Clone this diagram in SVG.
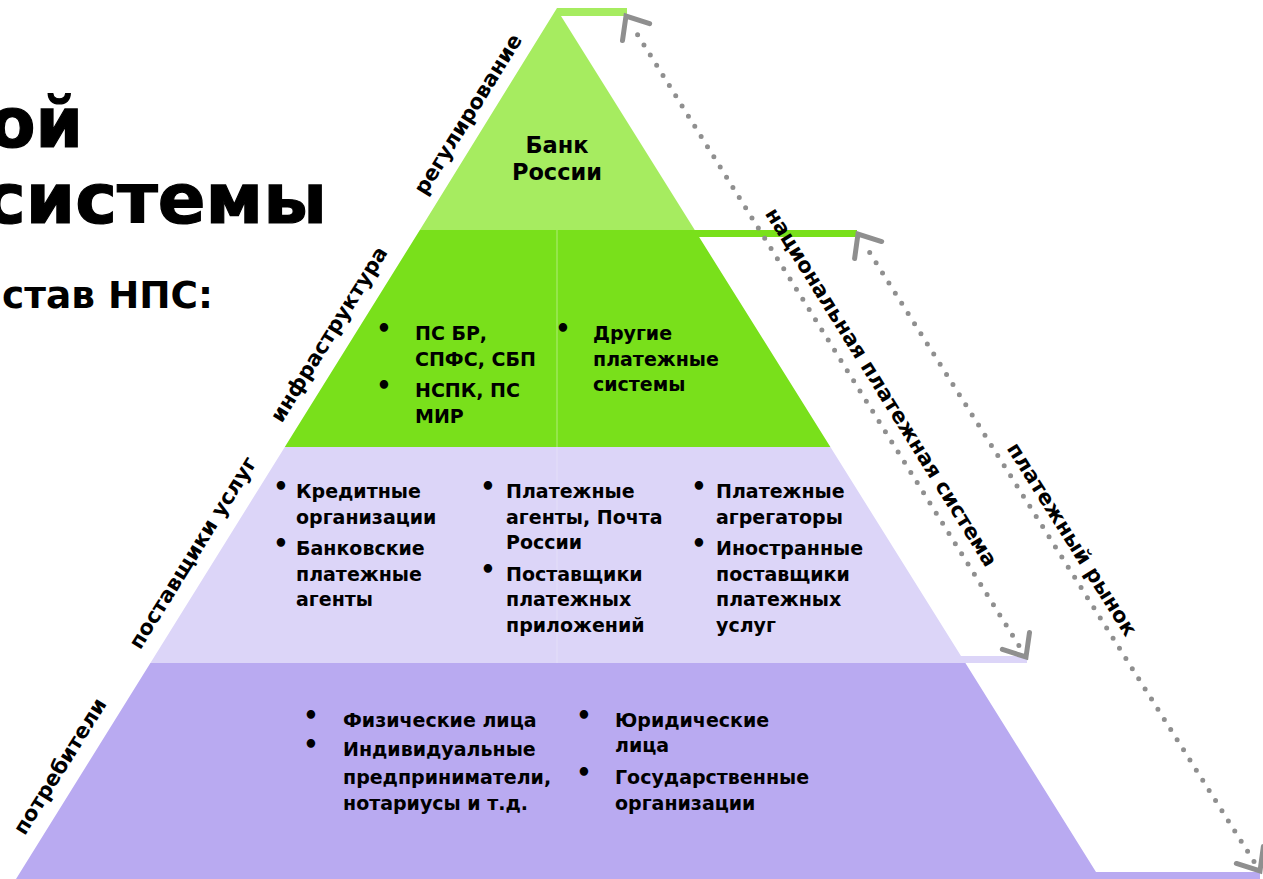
<svg xmlns="http://www.w3.org/2000/svg" xmlns:xlink="http://www.w3.org/1999/xlink" width="1263" height="879" viewBox="0 0 1263 879">
<defs>
<style>
.t{font-family:"DejaVu Sans","Noto Sans",sans-serif;font-weight:bold;fill:#000;}
.b{font-size:19px;}
.bu{font-size:24px;text-anchor:middle;}
.lab{font-size:21px;text-anchor:middle;}
.ttl{font-size:69px;stroke:#000;stroke-width:1.2;}
.dot{fill:none;stroke:#8F8F8F;stroke-width:5;stroke-linecap:round;stroke-dasharray:0 12;}
.chev{fill:none;stroke:#8F8F8F;stroke-width:5;stroke-linecap:round;stroke-linejoin:miter;}
.div{stroke:#FFFFFF;stroke-width:1.2;}
</style>
<path id="chev" d="M -19 -16 L 0 0 L -19 16"/>
</defs>
<rect x="0" y="0" width="1263" height="879" fill="#FFFFFF"/>

<g id="title">
<text class="t ttl" x="-11" y="147" textLength="94" lengthAdjust="spacingAndGlyphs">ой</text>
<text class="t ttl" x="-16" y="223" textLength="343" lengthAdjust="spacingAndGlyphs">системы</text>
<text class="t" x="2" y="308" font-size="38" textLength="211" lengthAdjust="spacingAndGlyphs">став НПС:</text>
</g>

<g id="layer-regulation">
<polygon points="557,8 627,8 627,16 561,16 694.75,230 419.85,230" fill="#A6EC60"/>
<text class="t" x="557" y="153" font-size="22.5" text-anchor="middle">Банк</text>
<text class="t" x="557" y="180" font-size="22.5" text-anchor="middle">России</text>
<text class="t lab" transform="translate(474,118) rotate(-58.1)">регулирование</text>
</g>

<g id="layer-infrastructure">
<polygon points="419.85,230 857,230 857,237 699.1,237 830.4,447 284.8,447" fill="#79E01B"/>
<line class="div" x1="557" y1="230" x2="557" y2="447" stroke-opacity="0.35"/>
<text class="t bu" x="384" y="337">•</text>
<text class="t b" x="415" y="340">ПС БР,</text>
<text class="t b" x="415" y="365.5">СПФС, СБП</text>
<text class="t bu" x="384" y="394">•</text>
<text class="t b" x="415" y="397">НСПК, ПС</text>
<text class="t b" x="415" y="422.5">МИР</text>
<text class="t bu" x="563" y="337">•</text>
<text class="t b" x="593" y="340">Другие</text>
<text class="t b" x="593" y="365.5">платежные</text>
<text class="t b" x="593" y="391">системы</text>
<text class="t lab" transform="translate(335,338) rotate(-58.1)">инфраструктура</text>
</g>

<g id="layer-providers">
<polygon points="284.8,447 830.4,447 961,656 1027,656 1027,663 150.4,663" fill="#DCD5F8"/>
<line class="div" x1="557" y1="447" x2="557" y2="663" stroke-opacity="0.2"/>
<text class="t bu" x="281" y="495">•</text>
<text class="t b" x="296" y="498">Кредитные</text>
<text class="t b" x="296" y="523.5">организации</text>
<text class="t bu" x="281" y="552">•</text>
<text class="t b" x="296" y="555">Банковские</text>
<text class="t b" x="296" y="580.5">платежные</text>
<text class="t b" x="296" y="606">агенты</text>
<text class="t bu" x="488" y="495">•</text>
<text class="t b" x="506" y="498">Платежные</text>
<text class="t b" x="506" y="523.5">агенты, Почта</text>
<text class="t b" x="506" y="549">России</text>
<text class="t bu" x="488" y="577.5">•</text>
<text class="t b" x="506" y="580.5">Поставщики</text>
<text class="t b" x="506" y="606">платежных</text>
<text class="t b" x="506" y="631.5">приложений</text>
<text class="t bu" x="699" y="495">•</text>
<text class="t b" x="716" y="498">Платежные</text>
<text class="t b" x="716" y="523.5">агрегаторы</text>
<text class="t bu" x="699" y="552">•</text>
<text class="t b" x="716" y="555">Иностранные</text>
<text class="t b" x="716" y="580.5">поставщики</text>
<text class="t b" x="716" y="606">платежных</text>
<text class="t b" x="716" y="631.5">услуг</text>
<text class="t lab" transform="translate(198.7,556.4) rotate(-58.1)">поставщики услуг</text>
</g>

<g id="layer-consumers">
<polygon points="150.4,663 965.4,663 1096,872 1260,872 1260,879 16,879" fill="#B9AAF1"/>
<text class="t bu" x="311" y="724">•</text>
<text class="t b" x="343" y="727">Физические лица</text>
<text class="t bu" x="311" y="753">•</text>
<text class="t b" x="343" y="756">Индивидуальные</text>
<text class="t b" x="343" y="784">предприниматели,</text>
<text class="t b" x="343" y="810">нотариусы и т.д.</text>
<text class="t bu" x="584" y="724">•</text>
<text class="t b" x="615" y="727">Юридические</text>
<text class="t b" x="615" y="752">лица</text>
<text class="t bu" x="584" y="781">•</text>
<text class="t b" x="615" y="784">Государственные</text>
<text class="t b" x="615" y="810">организации</text>
<text class="t lab" transform="translate(66,770) rotate(-58.1)">потребители</text>
</g>

<g id="connectors">
<g id="arrow-nps">
<line class="dot" x1="637.6" y1="34.7" x2="1021.8" y2="650.2"/>
<use xlink:href="#chev" class="chev" transform="translate(626,16) rotate(238.04)"/>
<use xlink:href="#chev" class="chev" transform="translate(1026,657) rotate(58.04)"/>
<text class="t lab" transform="translate(875.3,390.9) rotate(58.04)">национальная платежная система</text>
</g>
<g id="arrow-market">
<line class="dot" x1="869.7" y1="252.6" x2="1255.7" y2="864.2"/>
<use xlink:href="#chev" class="chev" transform="translate(858,234) rotate(237.75)"/>
<use xlink:href="#chev" class="chev" transform="translate(1260,871) rotate(57.75)"/>
<text class="t lab" transform="translate(1066,543) rotate(57.75)">платежный рынок</text>
</g>
</g>
</svg>
